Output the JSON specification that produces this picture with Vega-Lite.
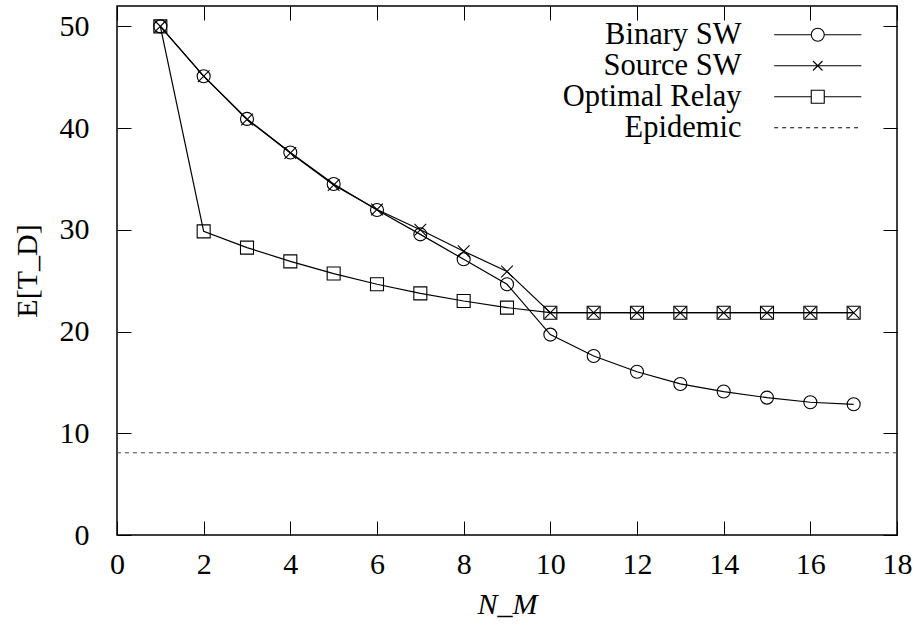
{
  "$schema": "https://vega.github.io/schema/vega-lite/v6.json",
  "width": 780,
  "height": 529,
  "autosize": {"type": "none"},
  "padding": {"left": 117, "top": 6, "right": 18, "bottom": 93},
  "background": "white",
  "config": {
    "view": {"stroke": "black", "strokeWidth": 1.5},
    "font": "Liberation Serif",
    "axis": {
      "labelFont": "Liberation Serif",
      "labelFontSize": 30,
      "labelColor": "black",
      "titleFont": "Liberation Serif",
      "titleFontSize": 30,
      "titleColor": "black",
      "titleFontWeight": "normal",
      "tickSize": -14,
      "tickColor": "black",
      "tickWidth": 1,
      "domain": false,
      "grid": false,
      "labelFlush": false,
      "labelOverlap": false
    }
  },
  "datasets": {
    "series": [
      {"series": "Binary SW", "n": 1, "t": 50},
      {"series": "Binary SW", "n": 2, "t": 45.1},
      {"series": "Binary SW", "n": 3, "t": 40.9},
      {"series": "Binary SW", "n": 4, "t": 37.6},
      {"series": "Binary SW", "n": 5, "t": 34.5},
      {"series": "Binary SW", "n": 6, "t": 31.95},
      {"series": "Binary SW", "n": 7, "t": 29.55},
      {"series": "Binary SW", "n": 8, "t": 27.1},
      {"series": "Binary SW", "n": 9, "t": 24.65},
      {"series": "Binary SW", "n": 10, "t": 19.7},
      {"series": "Binary SW", "n": 11, "t": 17.6},
      {"series": "Binary SW", "n": 12, "t": 16.05},
      {"series": "Binary SW", "n": 13, "t": 14.85},
      {"series": "Binary SW", "n": 14, "t": 14.1},
      {"series": "Binary SW", "n": 15, "t": 13.5},
      {"series": "Binary SW", "n": 16, "t": 13.05},
      {"series": "Binary SW", "n": 17, "t": 12.85},
      {"series": "Source SW", "n": 1, "t": 50},
      {"series": "Source SW", "n": 2, "t": 45.1},
      {"series": "Source SW", "n": 3, "t": 40.85},
      {"series": "Source SW", "n": 4, "t": 37.55},
      {"series": "Source SW", "n": 5, "t": 34.4},
      {"series": "Source SW", "n": 6, "t": 32.0},
      {"series": "Source SW", "n": 7, "t": 30.0},
      {"series": "Source SW", "n": 8, "t": 27.9},
      {"series": "Source SW", "n": 9, "t": 25.9},
      {"series": "Source SW", "n": 10, "t": 21.85},
      {"series": "Source SW", "n": 11, "t": 21.85},
      {"series": "Source SW", "n": 12, "t": 21.85},
      {"series": "Source SW", "n": 13, "t": 21.85},
      {"series": "Source SW", "n": 14, "t": 21.85},
      {"series": "Source SW", "n": 15, "t": 21.85},
      {"series": "Source SW", "n": 16, "t": 21.85},
      {"series": "Source SW", "n": 17, "t": 21.85},
      {"series": "Optimal Relay", "n": 1, "t": 50},
      {"series": "Optimal Relay", "n": 2, "t": 29.85},
      {"series": "Optimal Relay", "n": 3, "t": 28.25},
      {"series": "Optimal Relay", "n": 4, "t": 26.9},
      {"series": "Optimal Relay", "n": 5, "t": 25.7},
      {"series": "Optimal Relay", "n": 6, "t": 24.65},
      {"series": "Optimal Relay", "n": 7, "t": 23.75},
      {"series": "Optimal Relay", "n": 8, "t": 23.0},
      {"series": "Optimal Relay", "n": 9, "t": 22.35},
      {"series": "Optimal Relay", "n": 10, "t": 21.85},
      {"series": "Optimal Relay", "n": 11, "t": 21.85},
      {"series": "Optimal Relay", "n": 12, "t": 21.85},
      {"series": "Optimal Relay", "n": 13, "t": 21.85},
      {"series": "Optimal Relay", "n": 14, "t": 21.85},
      {"series": "Optimal Relay", "n": 15, "t": 21.85},
      {"series": "Optimal Relay", "n": 16, "t": 21.85},
      {"series": "Optimal Relay", "n": 17, "t": 21.85}
    ],
    "epidemic": [{"series": "Epidemic", "t": 8.08}]
  },
  "layer": [
    {
      "data": {"name": "series"},
      "mark": {"type": "line", "stroke": "black", "strokeWidth": 1.2},
      "encoding": {
        "x": {"field": "n", "type": "quantitative",
              "scale": {"domain": [0, 18], "nice": false, "zero": false},
              "axis": {"orient": "bottom", "values": [0, 2, 4, 6, 8, 10, 12, 14, 16, 18], "title": "N_M", "titleFontStyle": "italic", "labelPadding": 28, "titlePadding": 10}},
        "y": {"field": "t", "type": "quantitative",
              "scale": {"domain": [0, 52], "nice": false, "zero": false},
              "axis": {"orient": "left", "values": [0, 10, 20, 30, 40, 50], "title": "E[T_D]", "labelPadding": 42, "titlePadding": 17}},
        "detail": {"field": "series"}
      }
    },
    {
      "data": {"name": "series"},
      "mark": {"type": "point", "filled": false, "stroke": "black", "strokeWidth": 1.1, "opacity": 1},
      "encoding": {
        "x": {"field": "n", "type": "quantitative",
              "axis": {"orient": "top", "values": [0, 2, 4, 6, 8, 10, 12, 14, 16, 18], "labels": false, "title": null}},
        "y": {"field": "t", "type": "quantitative",
              "axis": {"orient": "right", "values": [0, 10, 20, 30, 40, 50], "labels": false, "title": null}},
        "size": {"value": 169},
        "shape": {
          "field": "series", "type": "nominal",
          "scale": {"domain": ["Binary SW", "Source SW", "Optimal Relay"],
                    "range": ["circle", "M-0.9,-0.9L0.9,0.9M-0.9,0.9L0.9,-0.9", "square"]},
          "legend": null
        }
      }
    },
    {
      "data": {"name": "series"},
      "transform": [{"filter": "false"}],
      "mark": {"type": "point", "filled": false, "stroke": "black", "strokeWidth": 1.1},
      "encoding": {
        "x": {"field": "n", "type": "quantitative", "axis": null},
        "y": {"field": "t", "type": "quantitative", "axis": null},
        "shape": {
          "field": "series", "type": "nominal",
          "scale": {"domain": ["Binary SW", "Source SW", "Optimal Relay", "Epidemic"],
                    "range": ["M-6.7,0H-1M1,0H6.7M1,0A1,1 0 1 1 -1,0A1,1 0 1 1 1,0",
                              "M-6.7,0H6.7M-0.73,-0.73L0.73,0.73M-0.73,0.73L0.73,-0.73",
                              "M-6.7,0H-1M1,0H6.7M-1,-1H1V1H-1Z",
                              "M-6.7,0h0.6M-5.47,0h0.6M-4.24,0h0.6M-3.01,0h0.6M-1.78,0h0.6M-0.55,0h0.6M0.68,0h0.6M1.91,0h0.6M3.14,0h0.6M4.37,0h0.6M5.6,0h0.6"]},
          "legend": {
            "orient": "none", "legendX": 685.5, "legendY": 13.5, "title": null, "padding": 0,
            "labelAlign": "right", "labelOffset": -91.5, "labelFont": "Liberation Serif", "labelFontSize": 30.5, "labelColor": "black", "labelLimit": 400,
            "symbolSize": 169, "symbolStrokeColor": "black", "symbolFillColor": "transparent", "symbolStrokeWidth": 1.1, "symbolOpacity": 1,
            "rowPadding": 0
          }
        }
      }
    },
    {
      "data": {"name": "epidemic"},
      "mark": {"type": "rule", "strokeDash": [4, 4], "stroke": "#444", "strokeWidth": 1},
      "encoding": {
        "y": {"field": "t", "type": "quantitative", "axis": null}
      }
    }
  ],
  "resolve": {"axis": {"x": "independent", "y": "independent"}, "scale": {"shape": "independent"}}
}
